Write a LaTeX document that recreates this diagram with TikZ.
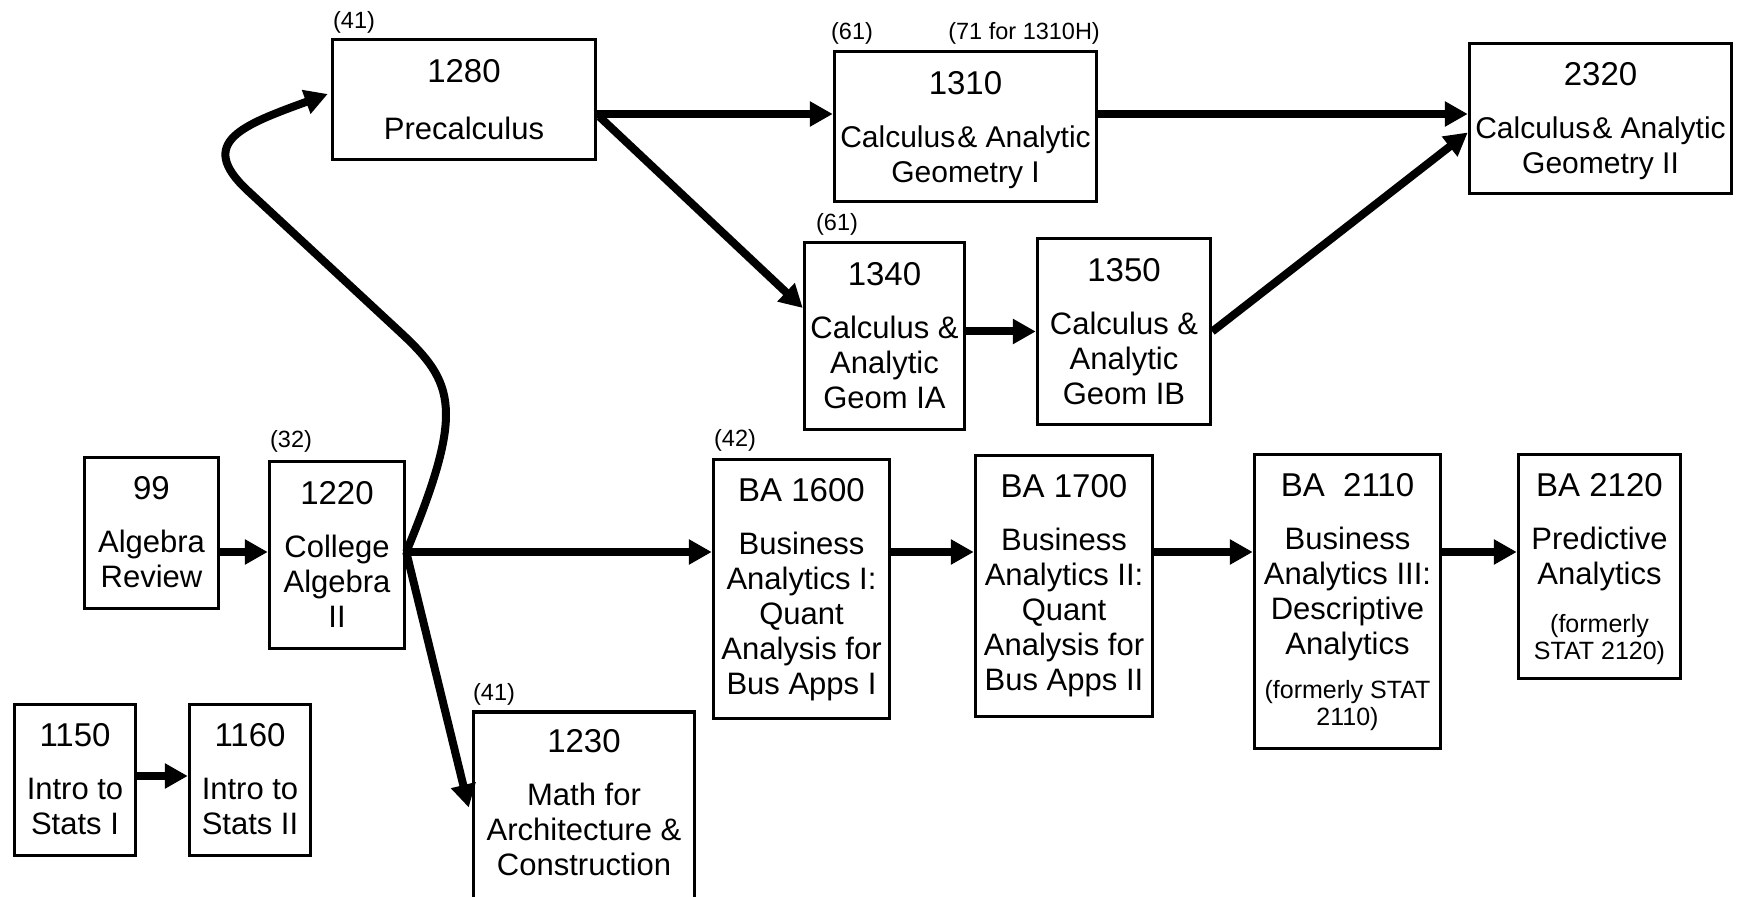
\documentclass[tikz,border=0pt]{standalone}
\usepackage{fontspec}
\setmainfont{Liberation Sans}
\usepackage{tikz}
\usetikzlibrary{positioning,calc}
\usetikzlibrary{arrows.meta}
\tikzstyle{line} = [line width=4pt,-{Triangle[length=11.5pt,width=12pt]}]
\tikzstyle{course} = [rectangle,draw,line width=1.75pt]
\tikzstyle{txt} = [anchor=north,align=center,inner sep=0pt,font=\fontsize{15.5}{17.5}\selectfont]
\tikzstyle{tag} = [anchor=base west,inner sep=0pt,font=\fontsize{11.75}{13}\selectfont]
\newcommand{\cnum}[1]{{\fontsize{16.5}{19}\selectfont #1}}
\newcommand{\cnote}[1]{{\fontsize{12.5}{13.5}\selectfont #1}}

\begin{document}
\begin{tikzpicture}[x=0.5pt,y=-0.5pt]
        \useasboundingbox (0,0) rectangle (1740,897);
        \coordinate (top) at (0,114);
        \coordinate (row) at (0,552);
        % calculus track
        \node[course,minimum width=131.5pt,minimum height=60pt] (c1280) at (464,99.5) {};
        \node[course,minimum width=131pt,minimum height=75pt] (c1310) at (965.5,126.5) {};
        \node[course,minimum width=131pt,minimum height=75pt] (c2320) at (1600.5,118.5) {};
        \node[course,minimum width=80pt,minimum height=93.5pt] (c1340) at (884.5,336) {};
        \node[course,minimum width=86.5pt,minimum height=93pt] (c1350) at (1124,331.5) {};
        \node[txt] at ($(c1280.north)+(0,21)$) {\cnum{1280}\\[11pt]Precalculus};
        \node[txt,font=\fontsize{15}{17.5}\selectfont] at ($(c1310.north)+(0,21)$) {\cnum{1310}\\[9pt]Calculus\kern1pt\& Analytic\\Geometry I};
        \node[txt,font=\fontsize{15}{17.5}\selectfont] at ($(c2320.north)+(0,20)$) {\cnum{2320}\\[9pt]Calculus\kern1pt\& Analytic\\Geometry II};
        \node[txt] at ($(c1340.north)+(0,21)$) {\cnum{1340}\\[9pt]Calculus \&\\Analytic\\Geom IA};
        \node[txt] at ($(c1350.north)+(0,21)$) {\cnum{1350}\\[9pt]Calculus \&\\Analytic\\Geom IB};
        \node[tag] at ($(c1280.north west)+(2,-9)$) {(41)};
        \node[tag] at ($(c1310.north west)+(-2,-10)$) {(61)};
        \node[tag,anchor=base east] at ($(c1310.north east)+(2,-10)$) {(71 for 1310H)};
        \node[tag] at ($(c1340.north west)+(13,-10)$) {(61)};
        % algebra and business analytics
        \node[course,minimum width=67pt,minimum height=75.5pt] (c99) at (151.5,533) {};
        \node[course,minimum width=67.5pt,minimum height=93.5pt] (c1220) at (337,555) {};
        \node[course,minimum width=110.5pt,minimum height=111.5pt] (c1230) at (584,823.5) {};
        \node[course,minimum width=88pt,minimum height=129.5pt] (cba1600) at (801.5,589) {};
        \node[course,minimum width=88.5pt,minimum height=130.5pt] (cba1700) at (1064,586) {};
        \node[course,minimum width=93pt,minimum height=147pt] (cba2110) at (1347.5,601.5) {};
        \node[course,minimum width=81pt,minimum height=112pt] (cba2120) at (1599.5,566.5) {};
        \node[txt] at ($(c99.north)+(0,20)$) {\cnum{99}\\[9pt]Algebra\\Review};
        \node[txt] at ($(c1220.north)+(0,21)$) {\cnum{1220}\\[9pt]College\\Algebra\\II};
        \node[txt] at ($(c1230.north)+(0,19)$) {\cnum{1230}\\[9pt]Math for\\Architecture \&\\Construction};
        \node[txt] at ($(cba1600.north)+(0,20)$) {\cnum{BA 1600}\\[9pt]Business\\Analytics I:\\Quant\\Analysis for\\Bus Apps I};
        \node[txt] at ($(cba1700.north)+(0,20)$) {\cnum{BA 1700}\\[9pt]Business\\Analytics II:\\Quant\\Analysis for\\Bus Apps II};
        \node[txt] at ($(cba2110.north)+(0,20)$) {\cnum{BA~ 2110}\\[9pt]Business\\Analytics III:\\Descriptive\\Analytics\\[4.5pt]\cnote{(formerly STAT}\\[-4pt]\cnote{2110)}};
        \node[txt] at ($(cba2120.north)+(0,20)$) {\cnum{BA 2120}\\[9pt]Predictive\\Analytics\\[6.5pt]\cnote{(formerly}\\[-4pt]\cnote{STAT 2120)}};
        \node[tag] at ($(c1220.north west)+(2,-12)$) {(32)};
        \node[tag] at ($(c1230.north west)+(1,-10)$) {(41)};
        \node[tag] at ($(cba1600.north west)+(2,-11)$) {(42)};
        % statistics
        \node[course,minimum width=60.5pt,minimum height=75.5pt] (c1150) at (75,780) {};
        \node[course,minimum width=60.5pt,minimum height=75.5pt] (c1160) at (250,780) {};
        \node[txt] at ($(c1150.north)+(0,20)$) {\cnum{1150}\\[9pt]Intro to\\Stats I};
        \node[txt] at ($(c1160.north)+(0,20)$) {\cnum{1160}\\[9pt]Intro to\\Stats II};
        % prerequisites
        \draw[line] (c1280.east |- top) -- (c1310.west |- top);
        \draw[line] (c1310.east |- top) -- (c2320.west |- top);
        \draw[line] ($(c1280.east)+(2,17)$) -- ($(c1340.west)+(0,-28)$);
        \draw[line] (c1340.east |- c1350) -- (c1350.west);
        \draw[line] (c1350.east) -- ($(c2320.west)+(0,14)$);
        \draw[line] (c99.east |- row) -- (c1220.west |- row);
        \draw[line] (c1220.east |- row) -- (cba1600.west |- row);
        \draw[line] (cba1600.east |- row) -- (cba1700.west |- row);
        \draw[line] (cba1700.east |- row) -- (cba2110.west |- row);
        \draw[line] (cba2110.east |- row) -- (cba2120.west |- row);
        \draw[line] (c1220.east |- row) -- ($(c1230.west)+(-3,-16)$);
        \draw[line] (c1220.east |- row) .. controls (465,410) and (455,383) .. (400,332)
              -- (247,190) .. controls (196,142) and (243,125) .. ($(c1280.west)+(-3,-5.5)$);
        \draw[line] ($(c1150.east)+(0,-4)$) -- ($(c1160.west)+(0,-4)$);
    \end{tikzpicture}
\end{document}
